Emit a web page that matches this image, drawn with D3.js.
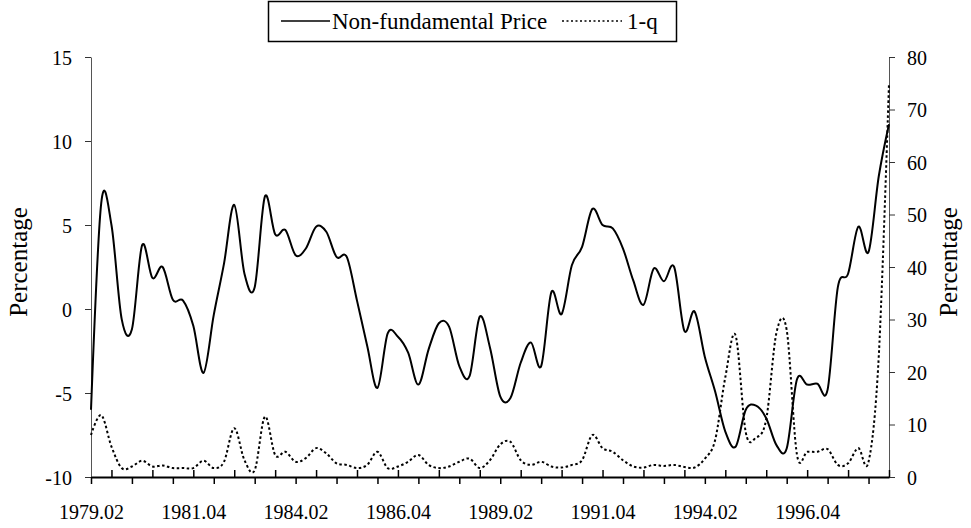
<!DOCTYPE html>
<html>
<head>
<meta charset="utf-8">
<script src="https://cdn.jsdelivr.net/npm/d3@7"></script>
<style>
  body { margin: 0; background: #fff; }
  svg text { font-family: "Liberation Serif", "Times New Roman", "DejaVu Serif", serif !important; fill: #000; }
</style>
</head>
<body>
<svg id="chart" width="971" height="528"></svg>
<script>
// quarterly categories, 1979.02 .. 1998.04
const quarters = [
  "1979.02","1979.03","1979.04",
  "1980.01","1980.02","1980.03","1980.04",
  "1981.01","1981.02","1981.03","1981.04",
  "1982.01","1982.02","1982.03","1982.04",
  "1983.01","1983.02","1983.03","1983.04",
  "1984.01","1984.02","1984.03","1984.04",
  "1985.01","1985.02","1985.03","1985.04",
  "1986.01","1986.02","1986.03","1986.04",
  "1987.01","1987.02","1987.03","1987.04",
  "1988.01","1988.02","1988.03","1988.04",
  "1989.01","1989.02","1989.03","1989.04",
  "1990.01","1990.02","1990.03","1990.04",
  "1991.01","1991.02","1991.03","1991.04",
  "1992.01","1992.02","1992.03","1992.04",
  "1993.01","1993.02","1993.03","1993.04",
  "1994.01","1994.02","1994.03","1994.04",
  "1995.01","1995.02","1995.03","1995.04",
  "1996.01","1996.02","1996.03","1996.04",
  "1997.01","1997.02","1997.03","1997.04",
  "1998.01","1998.02","1998.03","1998.04"
];

// non-fundamental price (left axis, %)
const nonFundamental = [
  -6.0, 6.3, 5.0, -0.6, -1.2, 3.8, 1.85, 2.5, 0.55, 0.5,
  -1.0, -3.8, -0.35, 2.7, 6.2, 2.1, 1.3, 6.7, 4.45, 4.7,
  3.2, 3.6, 4.9, 4.6, 3.1, 3.1, 0.5, -2.2, -4.7, -1.45,
  -1.65, -2.6, -4.5, -2.4, -0.85, -1.05, -3.4, -4.0, -0.45, -2.3,
  -5.2, -5.3, -3.2, -2.0, -3.4, 1.0, -0.3, 2.6, 3.7, 5.95,
  5.0, 4.8, 3.6, 1.7, 0.25, 2.4, 1.65, 2.5, -1.3, -0.15,
  -2.85, -4.9, -7.3, -8.2, -6.0, -5.75, -6.5, -8.1, -8.3, -4.2,
  -4.5, -4.45, -4.8, 1.3, 2.1, 4.9, 3.4, 7.9, 11.0
];

// 1-q (right axis, %)
const oneMinusQ = [
  8.0, 11.8, 5.8, 1.7, 2.0, 3.1, 2.0, 2.2, 1.7, 1.7,
  1.7, 3.1, 1.7, 2.9, 9.3, 3.2, 1.3, 11.5, 4.2, 4.8,
  2.9, 3.6, 5.5, 4.5, 2.6, 2.3, 1.7, 2.3, 4.8, 1.7,
  2.0, 2.9, 4.2, 2.3, 1.7, 2.0, 2.9, 3.5, 1.7, 3.2,
  6.2, 6.7, 3.2, 2.3, 2.9, 2.0, 1.8, 2.3, 3.2, 8.0,
  5.5, 4.8, 3.2, 2.0, 1.8, 2.3, 2.1, 2.3, 1.9, 1.8,
  3.5, 7.0, 19.0, 27.0, 8.5, 7.5, 11.0, 27.5, 28.0, 4.3,
  4.8, 4.8, 5.3, 2.3, 2.6, 5.5, 2.9, 23.0, 75.0
];

const xLabels = ["1979.02","1981.04","1984.02","1986.04","1989.02","1991.04","1994.02","1996.04"];
const leftTicks = [-10, -5, 0, 5, 10, 15];
const rightTicks = [0, 10, 20, 30, 40, 50, 60, 70, 80];

const svg = d3.select("#chart");

const plot = {left: 91, right: 889, top: 57, bottom: 477};

const x = d3.scalePoint().domain(quarters).range([plot.left, plot.right]);
const yLeft = d3.scaleLinear().domain([-10, 15]).range([plot.bottom, plot.top]);
const yRight = d3.scaleLinear().domain([0, 80]).range([plot.bottom, plot.top]);

// plain hyphen for negatives, like the original
const fmt = d => String(d);

// left axis
const gl = svg.append("g")
    .attr("transform", "translate(" + plot.left + ",0)")
    .call(d3.axisLeft(yLeft).tickValues(leftTicks).tickFormat(fmt)
        .tickSize(6).tickSizeOuter(0).tickPadding(13));
gl.select(".domain").attr("stroke", "#555").attr("stroke-width", 1);
gl.selectAll(".tick line").attr("stroke", "#333");
gl.selectAll(".tick text").style("font-size", "20px").attr("dy", "0.35em");

// right axis
const gr = svg.append("g")
    .attr("transform", "translate(" + plot.right + ",0)")
    .call(d3.axisRight(yRight).tickValues(rightTicks).tickFormat(fmt)
        .tickSize(6).tickSizeOuter(0).tickPadding(12));
gr.select(".domain").attr("stroke", "#555").attr("stroke-width", 1);
gr.selectAll(".tick line").attr("stroke", "#333");
gr.selectAll(".tick text").style("font-size", "20px").attr("dy", "0.35em");

// bottom axis: a tick every 2 quarters, labels every 10
const tickCats = quarters.filter((d, i) => i % 2 === 0);
const gb = svg.append("g")
    .attr("transform", "translate(0," + plot.bottom + ")")
    .call(d3.axisBottom(x).tickValues(tickCats).tickSize(7).tickSizeOuter(0)
        .tickFormat(d => xLabels.includes(d) ? d : ""));
gb.select(".domain").attr("stroke", "#000").attr("stroke-width", 2);
gb.selectAll(".tick line")
    .attr("stroke", "#000")
    .attr("stroke-width", 1.5)
    .attr("y2", d => quarters.indexOf(d) % 4 === 2 ? -7 : 7);
gb.selectAll(".tick text")
    .style("font-size", "20px")
    .attr("y", 42)
    .attr("dy", 0);

// axis titles
svg.append("text")
    .attr("transform", "translate(27,262) rotate(-90)")
    .attr("text-anchor", "middle")
    .style("font-size", "25px")
    .text("Percentage");

svg.append("text")
    .attr("transform", "translate(957,262) rotate(-90)")
    .attr("text-anchor", "middle")
    .style("font-size", "25px")
    .text("Percentage");

// lines
const curve = d3.curveCatmullRom.alpha(0);

const lineLeft = d3.line()
    .x((d, i) => x(quarters[i]))
    .y(d => yLeft(d))
    .curve(curve);

const lineRight = d3.line()
    .x((d, i) => x(quarters[i]))
    .y(d => yRight(d))
    .curve(curve);

svg.append("path")
    .datum(oneMinusQ)
    .attr("fill", "none")
    .attr("stroke", "#000")
    .attr("stroke-width", 2)
    .attr("stroke-dasharray", "2.5,2.5")
    .attr("d", lineRight);

svg.append("path")
    .datum(nonFundamental)
    .attr("fill", "none")
    .attr("stroke", "#000")
    .attr("stroke-width", 2)
    .attr("d", lineLeft);

// legend
const lg = svg.append("g");
lg.append("rect")
    .attr("x", 268.5).attr("y", 1.5)
    .attr("width", 408).attr("height", 40)
    .attr("fill", "#fff").attr("stroke", "#000").attr("stroke-width", 1.5);
lg.append("line")
    .attr("x1", 281).attr("x2", 330).attr("y1", 21).attr("y2", 21)
    .attr("stroke", "#000").attr("stroke-width", 1.5);
lg.append("text")
    .attr("x", 332).attr("y", 29)
    .style("font-size", "23px")
    .text("Non-fundamental Price");
lg.append("line")
    .attr("x1", 562).attr("x2", 622).attr("y1", 21).attr("y2", 21)
    .attr("stroke", "#000").attr("stroke-width", 1.5)
    .attr("stroke-dasharray", "2,2.5");
lg.append("text")
    .attr("x", 627).attr("y", 29)
    .style("font-size", "23px")
    .text("1-q");
</script>
</body>
</html>
